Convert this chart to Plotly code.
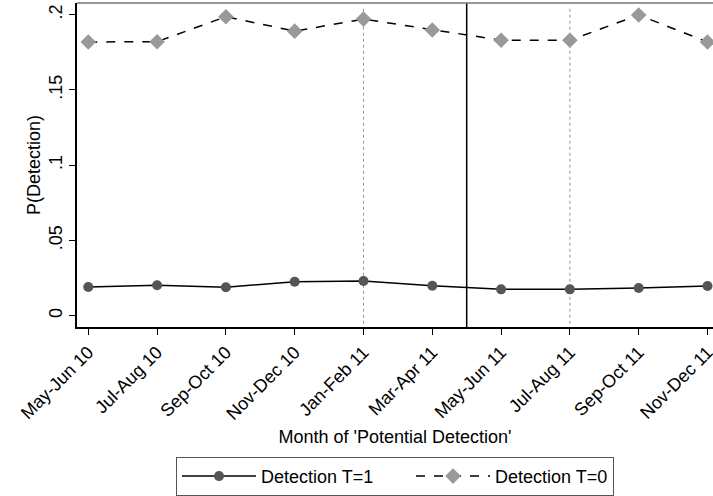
import plotly.graph_objects as go

months = ["May-Jun 10", "Jul-Aug 10", "Sep-Oct 10", "Nov-Dec 10", "Jan-Feb 11",
          "Mar-Apr 11", "May-Jun 11", "Jul-Aug 11", "Sep-Oct 11", "Nov-Dec 11"]
det_t1 = [0.0191, 0.0202, 0.0189, 0.0226, 0.0230, 0.0199, 0.0175, 0.0175, 0.0184, 0.0197]
det_t0 = [0.1818, 0.1820, 0.1986, 0.1890, 0.1970, 0.1898, 0.1830, 0.1830, 0.1997, 0.1818]
y_ticks = [0, 0.05, 0.1, 0.15, 0.2]
y_tick_labels = ["0", ".05", ".1", ".15", ".2"]

FONT = "Liberation Sans, Arial, sans-serif"

fig = go.Figure()
fig.add_trace(go.Scatter(
    x=months, y=det_t1, mode="lines+markers", name="Detection T=1",
    line=dict(color="black", width=1.5),
    marker=dict(symbol="circle", size=10, color="#555555"),
    legendwidth=145,
))
fig.add_trace(go.Scatter(
    x=months, y=det_t0, mode="lines+markers", name="Detection T=0",
    line=dict(color="black", width=1.5, dash="dash"),
    marker=dict(symbol="diamond", size=12, color="#999999"),
))

# reference lines
for xv in [4, 7]:
    fig.add_shape(type="line", xref="x", yref="paper", x0=xv, x1=xv, y0=0.01, y1=0.99,
                  line=dict(color="#7f9cba", width=1, dash="dot"), layer="below")
fig.add_shape(type="line", xref="x", yref="paper", x0=5.5, x1=5.5, y0=0, y1=1,
              line=dict(color="black", width=1.5))
# top border
fig.add_shape(type="line", xref="paper", yref="paper", x0=0, x1=1, y0=1, y1=1,
              line=dict(color="#777777", width=1.5))

fig.update_layout(
    width=713, height=496,
    margin=dict(l=77, r=0, t=3, b=169),
    plot_bgcolor="white", paper_bgcolor="white",
    font=dict(family=FONT, size=18, color="black"),
    showlegend=True,
    legend=dict(orientation="h", x=0.1557, xanchor="left", y=-0.401, yanchor="top",
                bordercolor="#555555", borderwidth=1, itemwidth=74,
                font=dict(size=18), tracegroupgap=0),
    xaxis=dict(
        type="category", range=[-0.164, 9.08], automargin=False,
        tickangle=-45, ticks="outside", ticklen=6, tickcolor="black", tickwidth=1,
        showline=True, linecolor="black", linewidth=1.5, showgrid=False, zeroline=False,
        tickfont=dict(size=18),
        title=dict(text="Month of 'Potential Detection'", font=dict(size=18), standoff=8),
    ),
    yaxis=dict(
        range=[-0.0075, 0.2077], tickvals=y_ticks, ticktext=y_tick_labels, automargin=False,
        tickangle=-90, ticks="outside", ticklen=6, tickcolor="black", tickwidth=1,
        showline=True, linecolor="black", linewidth=1.5, showgrid=False, zeroline=False,
        tickfont=dict(size=18),
        title=dict(text="P(Detection)", font=dict(size=18), standoff=1),
    ),
)

fig.write_html("out.html", config={"displayModeBar": False},
               post_script="document.body.style.margin='0';document.body.style.padding='0';")
